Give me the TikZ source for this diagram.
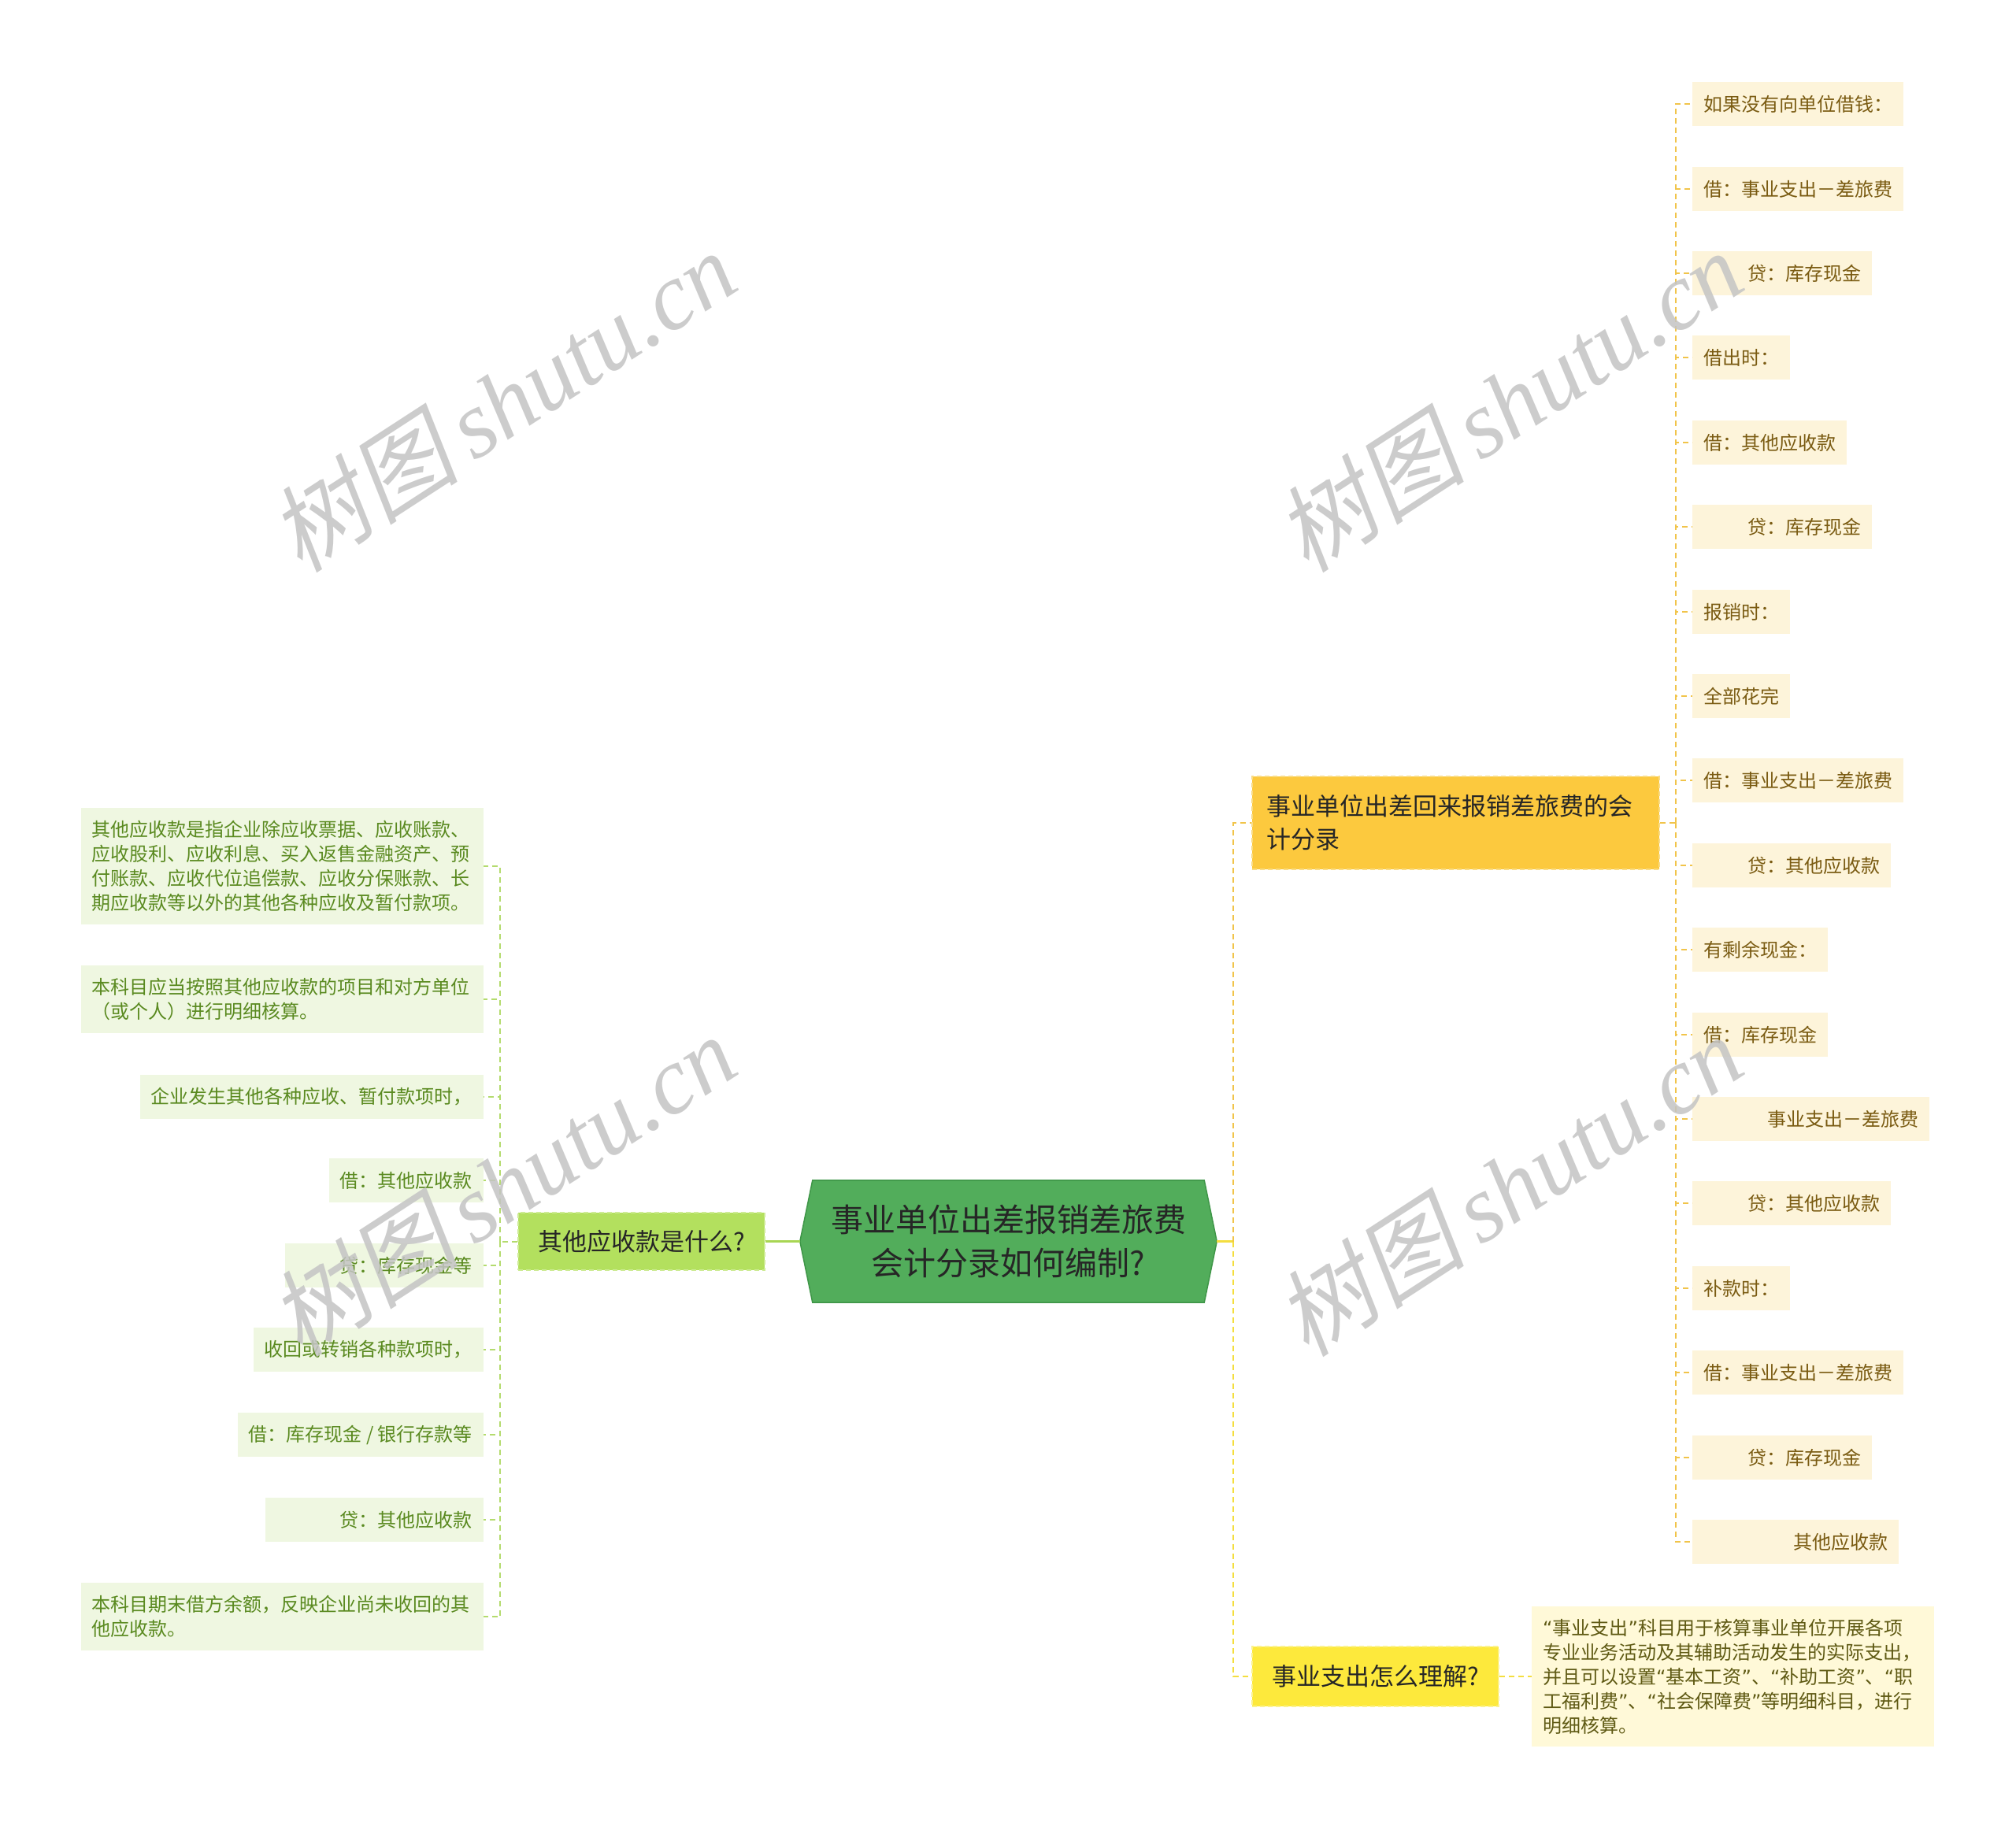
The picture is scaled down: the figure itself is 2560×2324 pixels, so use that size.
\documentclass[tikz,border=0pt]{standalone}
\usepackage{fontspec}
\setmainfont{Noto Sans CJK SC}
\newfontfamily\wmserif{Liberation Serif}
\newfontfamily\wmcjk[FakeSlant=0.2]{Noto Sans CJK SC}
\newfontfamily\qfont{DejaVu Sans}
\newcommand{\oq}{{\qfont “}}
\newcommand{\cq}{{\qfont ”}}
\usetikzlibrary{backgrounds}

\definecolor{rootfill}{HTML}{52AD5B}
\definecolor{rootedge}{HTML}{3F9648}
\definecolor{inkdark}{HTML}{262626}
\definecolor{limefill}{HTML}{B3E05E}
\definecolor{limeedge}{HTML}{CDEB94}
\definecolor{glinkcol}{HTML}{B4DB6E}
\definecolor{gsolidcol}{HTML}{A8D653}
\definecolor{greenleaf}{HTML}{EFF7E1}
\definecolor{greenink}{HTML}{5A8A20}
\definecolor{amberfill}{HTML}{FCC93E}
\definecolor{amberedge}{HTML}{F9DC86}
\definecolor{olinkcol}{HTML}{F1C44A}
\definecolor{creamleaf}{HTML}{FDF4DA}
\definecolor{brownink}{HTML}{7A5B12}
\definecolor{yellowfill}{HTML}{FDE93C}
\definecolor{yellowedge}{HTML}{FBF28E}
\definecolor{ylinkcol}{HTML}{F4DE3E}
\definecolor{paleleaf}{HTML}{FFF9D8}
\definecolor{oliveink}{HTML}{5F5A14}
\definecolor{wmgray}{HTML}{C4C4C4}

\begin{document}
\begin{tikzpicture}[x=1pt, y=-1pt,
  root/.style={inner sep=0pt, minimum width=529pt, minimum height=155pt, align=center,
    text=inkdark, font=\fontsize{41pt}{55pt}\selectfont},
  topic/.style={line width=2pt, dash pattern=on 6pt off 4pt, text=inkdark, inner xsep=18pt,
    font=\fontsize{31pt}{42pt}\selectfont},
  rleaf/.style={fill=creamleaf, text=brownink, anchor=west, inner xsep=14pt, inner ysep=0pt,
    minimum height=56pt, font=\fontsize{24pt}{31pt}\selectfont},
  gleaf/.style={fill=greenleaf, text=greenink, anchor=east, inner xsep=14pt, inner ysep=16pt,
    minimum height=56pt, font=\fontsize{24pt}{31pt}\selectfont},
  note/.style={fill=paleleaf, text=oliveink, anchor=west, text width=483pt, align=left,
    inner xsep=14pt, inner ysep=16pt, font=\fontsize{24pt}{31pt}\selectfont},
  olink/.style={draw=olinkcol, line width=2.5pt, dash pattern=on 7pt off 5pt},
  ylink/.style={draw=ylinkcol, line width=2.5pt, dash pattern=on 7pt off 5pt},
  glink/.style={draw=glinkcol, line width=2pt, dash pattern=on 7pt off 5pt},
  wmark/.style={text=wmgray, text opacity=0.85, rotate=33, inner sep=0pt,
    font=\fontsize{121pt}{121pt}\selectfont}]

  % centre
  \node[root] (root) at (1280.5,1576.5) {事业单位出差报销差旅费\\会计分录如何编制?};
  \begin{scope}[on background layer]
    \path[use as bounding box, fill=white] (0,0) rectangle (2560,2324);
    \filldraw[fill=rootfill, draw=rootedge, line width=1.5pt] (root.west)
      -- ([xshift=16pt]root.north west) -- ([xshift=-16pt]root.north east) -- (root.east)
      -- ([xshift=-16pt]root.south east) -- ([xshift=16pt]root.south west) -- cycle;
  \end{scope}

  % topics
  \node[topic, fill=limefill, draw=limeedge, minimum width=313pt, minimum height=73pt]
    (recv) at (814.5,1576.5) {其他应收款是什么?};
  \node[topic, fill=amberfill, draw=amberedge, anchor=west, text width=481pt, align=left,
    minimum height=118pt] (acct) at (1589,1045) {事业单位出差回来报销差旅费的会\\计分录};
  \node[topic, fill=yellowfill, draw=yellowedge, anchor=west, minimum width=313pt,
    minimum height=76pt] (spend) at (1589,2129) {事业支出怎么理解?};
  \node[note] (expl) at (1945,2129) {\oq{}事业支出\cq{}科目用于核算事业单位开展各项\\专业业务活动及其辅助活动发生的实际支出，\\并且可以设置\oq{}基本工资\cq{}、\oq{}补助工资\cq{}、\oq{}职\\工福利费\cq{}、\oq{}社会保障费\cq{}等明细科目，进行\\明细核算。};

  % right leaves
  \node[rleaf] (r1) at (2149,132) {如果没有向单位借钱：};
  \node[rleaf] (r2) at (2149,240) {借：事业支出－差旅费};
  \node[rleaf] (r3) at (2149,347) {\hspace*{56pt}贷：库存现金};
  \node[rleaf] (r4) at (2149,454) {借出时：};
  \node[rleaf] (r5) at (2149,562) {借：其他应收款};
  \node[rleaf] (r6) at (2149,669) {\hspace*{56pt}贷：库存现金};
  \node[rleaf] (r7) at (2149,777) {报销时：};
  \node[rleaf] (r8) at (2149,884) {全部花完};
  \node[rleaf] (r9) at (2149,991) {借：事业支出－差旅费};
  \node[rleaf] (r10) at (2149,1099) {\hspace*{56pt}贷：其他应收款};
  \node[rleaf] (r11) at (2149,1206) {有剩余现金：};
  \node[rleaf] (r12) at (2149,1314) {借：库存现金};
  \node[rleaf] (r13) at (2149,1421) {\hspace*{81pt}事业支出－差旅费};
  \node[rleaf] (r14) at (2149,1528) {\hspace*{56pt}贷：其他应收款};
  \node[rleaf] (r15) at (2149,1636) {补款时：};
  \node[rleaf] (r16) at (2149,1743) {借：事业支出－差旅费};
  \node[rleaf] (r17) at (2149,1851) {\hspace*{56pt}贷：库存现金};
  \node[rleaf] (r18) at (2149,1958) {\hspace*{114pt}其他应收款};

  % left leaves
  \node[gleaf, text width=483pt, align=left] (l1) at (614,1100) {其他应收款是指企业除应收票据、应收账款、\\应收股利、应收利息、买入返售金融资产、预\\付账款、应收代位追偿款、应收分保账款、长\\期应收款等以外的其他各种应收及暂付款项。};
  \node[gleaf, text width=483pt, align=left] (l2) at (614,1269) {本科目应当按照其他应收款的项目和对方单位\\（或个人）进行明细核算。};
  \node[gleaf] (l3) at (614,1393) {企业发生其他各种应收、暂付款项时，};
  \node[gleaf] (l4) at (614,1499) {借：其他应收款};
  \node[gleaf] (l5) at (614,1607) {\hspace*{56pt}贷：库存现金等};
  \node[gleaf] (l6) at (614,1714) {收回或转销各种款项时，};
  \node[gleaf] (l7) at (614,1822) {借：库存现金 / 银行存款等};
  \node[gleaf] (l8) at (614,1930) {\hspace*{81pt}贷：其他应收款};
  \node[gleaf, text width=483pt, align=left] (l9) at (614,2053) {本科目期末借方余额，反映企业尚未收回的其\\他应收款。};

  % links
  \coordinate (mspine) at (1566,1576.5);
  \coordinate (rspine) at (2128,1045);
  \coordinate (lspine) at (635,1576.5);
  \draw[draw=ylinkcol, line width=2.5pt] (root.east) -- (mspine);
  \draw[olink] (mspine) |- (acct.west);
  \draw[ylink] (mspine) |- (spend.west);
  \draw[ylink] (spend.east) -- (expl.west);
  \draw[draw=gsolidcol, line width=2.5pt] (root.west) -- (recv.east);
  \draw[glink] (recv.west) -- (lspine);
  \draw[glink] (lspine) |- (l1.east) (lspine) |- (l2.east) (lspine) |- (l3.east)
    (lspine) |- (l4.east) (lspine) |- (l5.east) (lspine) |- (l6.east)
    (lspine) |- (l7.east) (lspine) |- (l8.east) (lspine) |- (l9.east);
  \draw[olink] (acct.east) -- (rspine);
  \draw[olink] (rspine) |- (r1.west) (rspine) |- (r2.west) (rspine) |- (r3.west)
    (rspine) |- (r4.west) (rspine) |- (r5.west) (rspine) |- (r6.west)
    (rspine) |- (r7.west) (rspine) |- (r8.west) (rspine) |- (r9.west)
    (rspine) |- (r10.west) (rspine) |- (r11.west) (rspine) |- (r12.west)
    (rspine) |- (r13.west) (rspine) |- (r14.west) (rspine) |- (r15.west)
    (rspine) |- (r16.west) (rspine) |- (r17.west) (rspine) |- (r18.west);

  % watermarks
  \node[wmark] (wm1) at (638,509) {{\wmcjk 树图}\,{\wmserif\itshape shutu.cn}};
  \node[wmark] (wm2) at (1916,509) {{\wmcjk 树图}\,{\wmserif\itshape shutu.cn}};
  \node[wmark] (wm3) at (638,1505) {{\wmcjk 树图}\,{\wmserif\itshape shutu.cn}};
  \node[wmark] (wm4) at (1916,1505) {{\wmcjk 树图}\,{\wmserif\itshape shutu.cn}};
\end{tikzpicture}
\end{document}
